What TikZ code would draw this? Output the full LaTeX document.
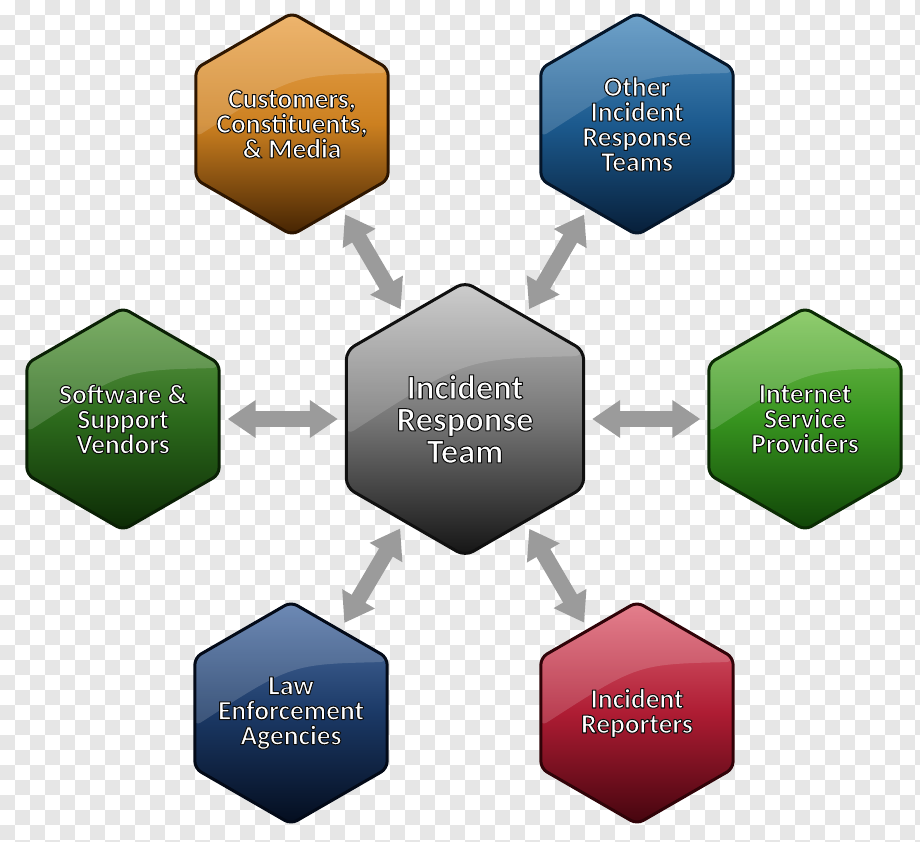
\documentclass[tikz,border=0pt]{standalone}
\usepackage{fontspec}
\setmainfont{Carlito}
\usepackage{tikz}
\usetikzlibrary{shapes.geometric, arrows.meta, calc}
\definecolor{checkgray}{RGB}{230,230,230}
\definecolor{arrowgray}{RGB}{155,155,155}
\definecolor{hubtop}{HTML}{C4C4C4}
\definecolor{hubmid}{HTML}{767676}
\definecolor{hubbot}{HTML}{141414}
\definecolor{hubrim}{HTML}{101010}
\definecolor{mediatop}{HTML}{EBA752}
\definecolor{mediamid}{HTML}{CC8020}
\definecolor{mediabot}{HTML}{442302}
\definecolor{mediarim}{HTML}{2E1600}
\definecolor{peertop}{HTML}{5290C0}
\definecolor{peermid}{HTML}{1C5A8E}
\definecolor{peerbot}{HTML}{071E38}
\definecolor{peerrim}{HTML}{05162A}
\definecolor{lawtop}{HTML}{5274A8}
\definecolor{lawmid}{HTML}{1B3966}
\definecolor{lawbot}{HTML}{040D1E}
\definecolor{lawrim}{HTML}{030A18}
\definecolor{vendortop}{HTML}{64A04A}
\definecolor{vendormid}{HTML}{2C6A1C}
\definecolor{vendorbot}{HTML}{0C2A05}
\definecolor{vendorrim}{HTML}{0A2005}
\definecolor{isptop}{HTML}{7CC454}
\definecolor{ispmid}{HTML}{37941F}
\definecolor{ispbot}{HTML}{104407}
\definecolor{isprim}{HTML}{0B2B04}
\definecolor{reporttop}{HTML}{E06878}
\definecolor{reportmid}{HTML}{AE1C33}
\definecolor{reportbot}{HTML}{44050E}
\definecolor{reportrim}{HTML}{300308}
% white letters with a dark rim (fill + stroke render mode)
\newcommand{\outl}[1]{\special{pdf:code q 2 Tr 1 w 1 j 0.05 0.05 0.05 RG}#1\special{pdf:code Q}}
\tikzset{
  gloss/.style={path picture={
      \fill[white, opacity=.16]
        (path picture bounding box.north west) -- (path picture bounding box.north east)
        -- ($(path picture bounding box.north east)!.27!(path picture bounding box.south east)$)
        .. controls ($(path picture bounding box.north)!.28!(path picture bounding box.south)$)
        .. ($(path picture bounding box.north west)!.56!(path picture bounding box.south west)$)
        -- cycle;
    }},
  hexnode/.style={regular polygon, regular polygon sides=6, shape border rotate=90,
    inner sep=0pt, minimum size=222pt, rounded corners=7pt, line width=3pt, gloss},
  hubnode/.style={hexnode, minimum size=274pt, rounded corners=9pt},
  hextext/.style={text=white, align=center, inner sep=0pt,
    font=\bfseries\fontsize{27.5}{25}\selectfont},
  hubtext/.style={hextext, font=\bfseries\fontsize{34.5}{32}\selectfont},
  hexcolors/.style n args={4}{top color=#1, bottom color=#3, middle color=#2, draw=#4},
  twoway/.style={arrowgray, line width=16pt,
    {Triangle[length=28pt, width=36pt]}-{Triangle[length=28pt, width=36pt]},
    shorten <=7pt, shorten >=7pt}
}
\begin{document}
\begin{tikzpicture}[x=1pt, y=-1pt]
  \useasboundingbox (0,0) rectangle (920,841);
  % checkerboard background
  \begin{scope}
    \clip (0,0) rectangle (920,841);
    \foreach \row in {0,...,56}{
      \pgfmathtruncatemacro{\shift}{mod(\row+1,2)}
      \foreach \col in {0,2,...,60}
        \fill[checkgray] ({(\col+\shift)*15},{\row*15}) rectangle +(15,15);
    }
  \end{scope}

  \node[hubnode, hexcolors={hubtop}{hubmid}{hubbot}{hubrim}] (irt) at (465,419) {};
  \node[hexnode, hexcolors={mediatop}{mediamid}{mediabot}{mediarim}] (media) at (292,124) {};
  \node[hexnode, hexcolors={peertop}{peermid}{peerbot}{peerrim}] (peers) at (637,124) {};
  \node[hexnode, hexcolors={vendortop}{vendormid}{vendorbot}{vendorrim}] (vendors) at (123,419) {};
  \node[hexnode, hexcolors={isptop}{ispmid}{ispbot}{isprim}] (isp) at (805,419) {};
  \node[hexnode, hexcolors={lawtop}{lawmid}{lawbot}{lawrim}] (police) at (291,713) {};
  \node[hexnode, hexcolors={reporttop}{reportmid}{reportbot}{reportrim}] (reporters) at (637,713) {};

  \node[hubtext] (irttext) at (irt) {\outl{Incident}\\\outl{Response}\\\outl{Team}};
  \node[hextext] (mediatext) at (media) {\outl{Customers,}\\\outl{Constituents,}\\\outl{\& Media}};
  \node[hextext] (peerstext) at (peers) {\outl{Other}\\\outl{Incident}\\\outl{Response}\\\outl{Teams}};
  \node[hextext] (vendorstext) at (vendors) {\outl{Software \&}\\\outl{Support}\\\outl{Vendors}};
  \node[hextext] (isptext) at (isp) {\outl{Internet}\\\outl{Service}\\\outl{Providers}};
  \node[hextext] (policetext) at (police) {\outl{Law}\\\outl{Enforcement}\\\outl{Agencies}};
  \node[hextext] (reporterstext) at (reporters) {\outl{Incident}\\\outl{Reporters}};

  % two-way links
  \draw[twoway] (irt) -- (media);
  \draw[twoway] (irt) -- (peers);
  \draw[twoway] (irt) -- (vendors);
  \draw[twoway] (irt) -- (isp);
  \draw[twoway] (irt) -- (police);
  \draw[twoway] (irt) -- (reporters);
\end{tikzpicture}
\end{document}
